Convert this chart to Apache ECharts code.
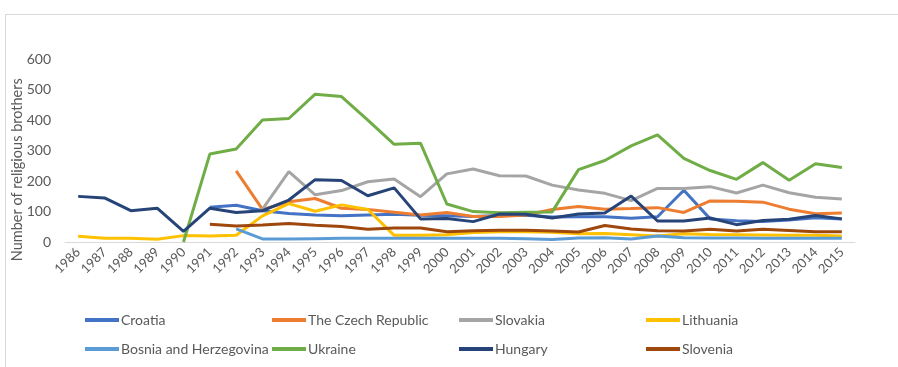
<!DOCTYPE html>
<html>
<head>
<meta charset="utf-8">
<script src="https://cdn.jsdelivr.net/npm/echarts@6/dist/echarts.min.js"></script>
<style>
html,body{margin:0;padding:0;background:#fff;}
#chart{width:898px;height:367px;position:relative;}
#frame{position:absolute;left:5px;top:14px;width:900px;height:360px;border-left:1px solid #d9d9d9;border-top:1px solid #d9d9d9;pointer-events:none;}
</style>
</head>
<body>
<div id="frame"></div>
<div id="chart"></div>
<script>
var years = ['1986','1987','1988','1989','1990','1991','1992','1993','1994','1995','1996','1997','1998','1999','2000','2001','2002','2003','2004','2005','2006','2007','2008','2009','2010','2011','2012','2013','2014','2015'];
var yTicks = [0,100,200,300,400,500,600];

var croatia   = [null,null,null,null,null,114,121,103,94,89,86,89,91,88,86,84,87,88,82,83,83,78,83,170,76,70,67,72,80,76];
var czech     = [null,null,null,null,null,null,234,107,132,143,111,107,98,89,97,84,84,89,107,117,108,110,113,97,135,134,131,108,93,95];
var slovakia  = [null,null,null,null,null,null,null,108,231,155,169,198,207,149,224,240,218,217,187,171,160,136,176,176,182,161,187,162,147,141];
var lithuania = [19,12,12,9,21,20,22,86,126,101,122,107,22,22,24,31,34,34,32,27,28,24,20,27,25,24,23,22,22,20];
var bosnia    = [null,null,null,null,null,null,43,10,10,11,12,12,12,12,12,12,12,11,8,13,14,10,20,14,13,13,12,12,12,12];
var ukraine   = [null,null,null,null,0,289,306,401,406,486,478,401,321,325,125,100,96,98,99,238,268,316,352,275,235,206,261,203,257,245];
var hungary   = [150,145,103,111,35,111,97,103,138,205,202,152,178,76,77,67,92,91,79,92,95,151,69,69,79,57,71,75,87,76];
var slovenia  = [null,null,null,null,null,58,53,56,61,55,51,42,46,46,34,37,39,39,36,33,54,43,37,36,42,36,42,38,34,34];

var seriesDefs = [
  ['Croatia', croatia, '#4472C4'],
  ['The Czech Republic', czech, '#ED7D31'],
  ['Slovakia', slovakia, '#A5A5A5'],
  ['Lithuania', lithuania, '#FFC000'],
  ['Bosnia and Herzegovina', bosnia, '#5B9BD5'],
  ['Ukraine', ukraine, '#70AD47'],
  ['Hungary', hungary, '#264478'],
  ['Slovenia', slovenia, '#9E480E']
];

var font = 'Lato, "Open Sans", sans-serif';
var chart = echarts.init(document.getElementById('chart'));

var legends = seriesDefs.map(function(s, i){
  var col = i % 4, row = Math.floor(i / 4);
  return {
    data: [s[0]], left: 85 + col * 187, top: 313 + row * 29,
    icon: 'rect', itemWidth: 34, itemHeight: 4, itemGap: 0, padding: 0,
    textStyle: {color: '#595959', fontSize: 14, fontFamily: font, padding: [0,0,0,-3]},
    selectedMode: false
  };
});

chart.setOption({
  animation: false,
  color: seriesDefs.map(function(s){return s[2];}),
  grid: {left: 65, right: 43, top: 59.5, bottom: 125, containLabel: false, outerBoundsMode: 'none'},
  legend: legends,
  xAxis: {
    type: 'category', data: years, boundaryGap: true,
    axisLine: {lineStyle: {color: '#d9d9d9', width: 1}},
    axisTick: {show: false},
    axisLabel: {rotate: 45, color: '#595959', fontSize: 13, fontFamily: font, margin: 8, interval: 0}
  },
  yAxis: {
    type: 'value', min: yTicks[0], max: yTicks[yTicks.length-1], interval: 100,
    name: 'Number of religious brothers', nameLocation: 'middle', nameGap: 40, nameMoveOverlap: false,
    nameTextStyle: {color: '#595959', fontSize: 14.5, fontFamily: font, padding: [0,38,0,0]},
    axisLine: {show: false}, axisTick: {show: false},
    splitLine: {show: false},
    axisLabel: {color: '#595959', fontSize: 14, fontFamily: font, margin: 14}
  },
  series: seriesDefs.map(function(s){
    return {
      name: s[0], type: 'line', data: s[1], symbol: 'none', connectNulls: false,
      lineStyle: {width: 3, color: s[2]}, itemStyle: {color: s[2]}
    };
  })
});
</script>
</body>
</html>
